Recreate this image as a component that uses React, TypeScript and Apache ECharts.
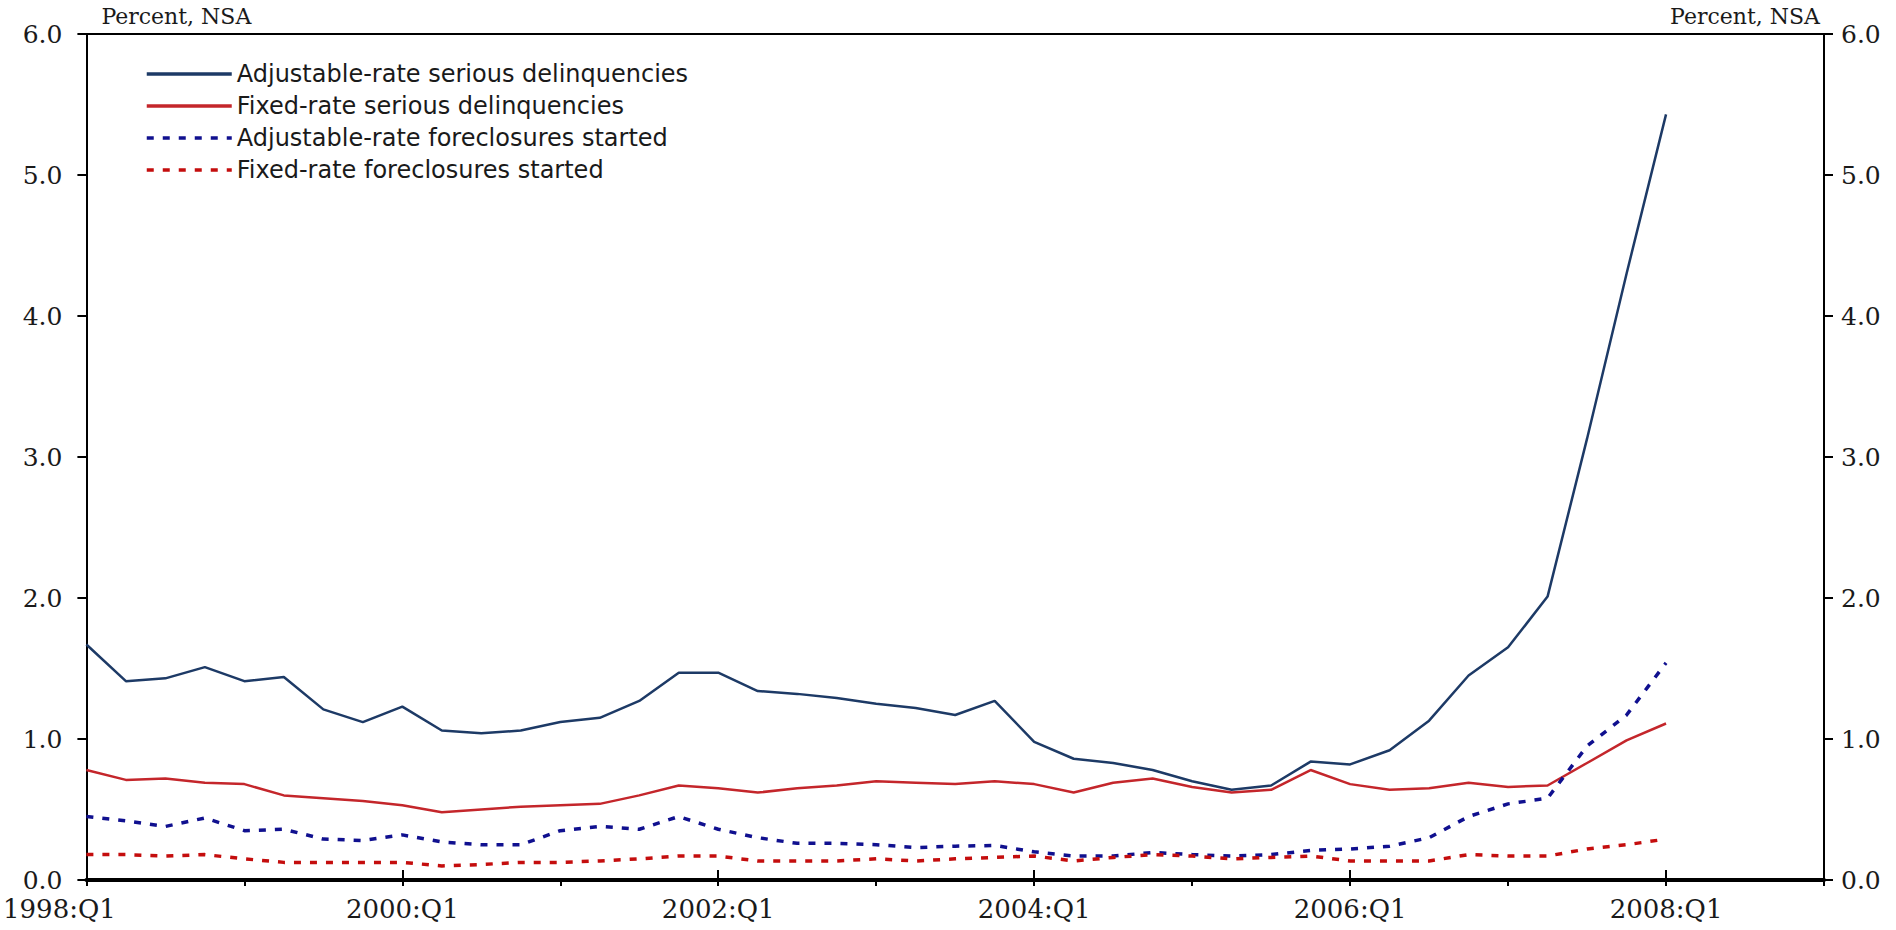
import React, { useEffect, useRef } from "react";
import * as echarts from "echarts";

// Quarter labels 1998:Q1 ... 2009:Q1
const startYear = 1998;
const quarterCount = 45;
const quarters: string[] = [];
for (let i = 0; i < quarterCount; i++) {
  quarters.push(`${startYear + Math.floor(i / 4)}:Q${(i % 4) + 1}`);
}

const seriesNames = [
  "Adjustable-rate serious delinquencies",
  "Fixed-rate serious delinquencies",
  "Adjustable-rate foreclosures started",
  "Fixed-rate foreclosures started",
];

const armSeriousDelinq = [
  1.67, 1.41, 1.43, 1.51, 1.41, 1.44, 1.21, 1.12, 1.23, 1.06,
  1.04, 1.06, 1.12, 1.15, 1.27, 1.47, 1.47, 1.34, 1.32, 1.29,
  1.25, 1.22, 1.17, 1.27, 0.98, 0.86, 0.83, 0.78, 0.70, 0.64,
  0.67, 0.84, 0.82, 0.92, 1.13, 1.45, 1.65, 2.01, 3.13, 4.30,
  5.43,
];

const frmSeriousDelinq = [
  0.78, 0.71, 0.72, 0.69, 0.68, 0.60, 0.58, 0.56, 0.53, 0.48,
  0.50, 0.52, 0.53, 0.54, 0.60, 0.67, 0.65, 0.62, 0.65, 0.67,
  0.70, 0.69, 0.68, 0.70, 0.68, 0.62, 0.69, 0.72, 0.66, 0.62,
  0.64, 0.78, 0.68, 0.64, 0.65, 0.69, 0.66, 0.67, 0.83, 0.99,
  1.11,
];

const armForeclosures = [
  0.45, 0.42, 0.38, 0.44, 0.35, 0.36, 0.29, 0.28, 0.32, 0.27,
  0.25, 0.25, 0.35, 0.38, 0.36, 0.45, 0.36, 0.30, 0.26, 0.26,
  0.25, 0.23, 0.24, 0.245, 0.20, 0.17, 0.17, 0.195, 0.18, 0.17,
  0.18, 0.21, 0.22, 0.24, 0.30, 0.45, 0.54, 0.58, 0.95, 1.17,
  1.54,
];

const frmForeclosures = [
  0.18, 0.18, 0.17, 0.18, 0.15, 0.125, 0.125, 0.125, 0.125, 0.10,
  0.11, 0.125, 0.125, 0.135, 0.15, 0.17, 0.17, 0.135, 0.135, 0.135,
  0.15, 0.135, 0.15, 0.16, 0.17, 0.135, 0.16, 0.18, 0.17, 0.15,
  0.16, 0.17, 0.135, 0.135, 0.135, 0.18, 0.17, 0.17, 0.22, 0.25,
  0.29,
];

const NAVY = "#1d3a66";
const RED = "#c4262b";
const DOT_BLUE = "#10108f";
const DOT_RED = "#c40d0d";
const SERIF = "DejaVu Serif";
const SANS = "DejaVu Sans";
const TEXT = "#1a1a1a";

export default function App() {
  const ref = useRef<HTMLDivElement>(null);

  useEffect(() => {
    if (!ref.current) return;
    const chart = echarts.init(ref.current, undefined, { renderer: "svg" });

    const yAxisCommon = {
      type: "value" as const,
      min: 0,
      max: 6,
      interval: 1,
      splitLine: { show: false },
      axisLine: { show: true, lineStyle: { color: "#000", width: 2 } },
      axisTick: { show: true, inside: false, length: 9, lineStyle: { color: "#000", width: 2 } },
      name: "Percent, NSA",
      nameLocation: "end" as const,
      nameGap: 7,
    };

    const tickLabelStyle = {
      fontFamily: SERIF,
      fontSize: 25,
      color: TEXT,
    };

    chart.setOption({
      animation: false,
      backgroundColor: "#ffffff",
      grid: { left: 82, right: 72, top: 34, bottom: 50, containLabel: false },
      legend: {
        orient: "vertical",
        left: 140,
        top: 57,
        itemWidth: 85,
        itemHeight: 20,
        itemGap: 8,
        data: seriesNames,
        itemStyle: { opacity: 0, color: "rgba(0,0,0,0)", borderWidth: 0 },
        lineStyle: { width: 3.5 },
        textStyle: { fontFamily: SANS, fontSize: 24, color: TEXT },
      },
      xAxis: [
        {
          type: "category",
          data: quarters,
          boundaryGap: false,
          position: "bottom",
          axisLine: { show: true, lineStyle: { color: "#000", width: 4 } },
          axisTick: {
            show: true,
            inside: false,
            length: 6,
            interval: (i: number) => i % 4 === 0,
            lineStyle: { color: "#000", width: 2 },
          },
          axisLabel: {
            interval: (i: number) => i % 8 === 0,
            margin: 16,
            ...tickLabelStyle,
            fontSize: 26,
            formatter: (v: string, i: number) => (i === 0 ? `{first|${v}}` : v),
            rich: {
              first: {
                fontFamily: SERIF,
                fontSize: 26,
                color: TEXT,
                padding: [0, 54, 0, 0],
              },
            },
          },
          splitLine: { show: false },
        },
        {
          type: "category",
          data: quarters,
          boundaryGap: false,
          position: "bottom",
          axisLine: { show: false },
          axisTick: {
            show: true,
            inside: true,
            length: 10,
            interval: (i: number) => i % 8 === 0,
            lineStyle: { color: "#000", width: 2 },
          },
          axisLabel: { show: false },
          splitLine: { show: false },
        },
        {
          type: "category",
          data: quarters,
          boundaryGap: false,
          position: "top",
          axisLine: { show: true, lineStyle: { color: "#000", width: 2 } },
          axisTick: { show: false },
          axisLabel: { show: false },
          splitLine: { show: false },
        },
      ],
      yAxis: [
        {
          ...yAxisCommon,
          position: "left",
          axisLabel: {
            margin: 24,
            ...tickLabelStyle,
            formatter: (v: number) => v.toFixed(1),
          },
          nameTextStyle: {
            fontFamily: SERIF,
            fontSize: 22,
            color: TEXT,
            align: "left",
            padding: [0, 0, 0, 15],
          },
        },
        {
          ...yAxisCommon,
          position: "right",
          axisLabel: {
            margin: 17,
            ...tickLabelStyle,
            formatter: (v: number) => v.toFixed(1),
          },
          nameTextStyle: {
            fontFamily: SERIF,
            fontSize: 22,
            color: TEXT,
            align: "right",
            padding: [0, 4, 0, 0],
          },
        },
      ],
      series: [
        {
          name: seriesNames[0],
          type: "line",
          data: armSeriousDelinq,
          symbol: "none",
          color: NAVY,
          lineStyle: { color: NAVY, width: 2.5 },
        },
        {
          name: seriesNames[1],
          type: "line",
          data: frmSeriousDelinq,
          symbol: "none",
          color: RED,
          lineStyle: { color: RED, width: 2.5 },
        },
        {
          name: seriesNames[2],
          type: "line",
          data: armForeclosures,
          symbol: "none",
          color: DOT_BLUE,
          lineStyle: { color: DOT_BLUE, width: 3.5, type: [7, 9] },
        },
        {
          name: seriesNames[3],
          type: "line",
          data: frmForeclosures,
          symbol: "none",
          color: DOT_RED,
          lineStyle: { color: DOT_RED, width: 3.5, type: [7, 9] },
        },
      ],
    });

    return () => chart.dispose();
  }, []);

  return (
    <div
      ref={ref}
      style={{ position: "fixed", left: 0, top: 0, width: "100vw", height: "100vh", background: "#fff" }}
    />
  );
}
